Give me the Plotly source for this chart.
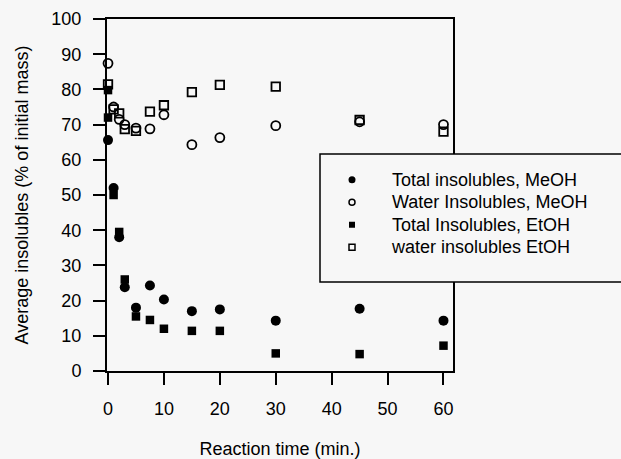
import plotly.graph_objects as go

# ---- data ----
x_total_meoh = [0, 1, 2, 3, 5, 7.5, 10, 15, 20, 30, 45, 60]
y_total_meoh = [65.6, 52.0, 38.0, 23.8, 18.0, 24.3, 20.3, 17.0, 17.5, 14.3, 17.7, 14.3]

x_water_meoh = [0, 1, 2, 3, 5, 7.5, 10, 15, 20, 30, 45, 60]
y_water_meoh = [87.4, 75.0, 71.5, 70.0, 69.0, 68.8, 72.8, 64.3, 66.3, 69.7, 70.8, 70.0]

x_total_etoh = [0, 0, 1, 2, 3, 5, 7.5, 10, 15, 20, 30, 45, 60]
y_total_etoh = [79.8, 72.0, 50.0, 39.5, 26.0, 15.5, 14.5, 12.0, 11.4, 11.4, 5.0, 4.8, 7.2]

x_water_etoh = [0, 1, 2, 3, 5, 7.5, 10, 15, 20, 30, 45, 60]
y_water_etoh = [81.4, 74.3, 73.2, 68.7, 68.2, 73.7, 75.5, 79.2, 81.3, 80.8, 71.3, 68.0]

series_names = [
    "Total insolubles, MeOH",
    "Water Insolubles, MeOH",
    "Total Insolubles, EtOH",
    "water insolubles EtOH",
]

x_ticks = [0, 10, 20, 30, 40, 50, 60]
y_ticks = [0, 10, 20, 30, 40, 50, 60, 70, 80, 90, 100]

BG = "#f7f7f7"
FONT = "Arial, 'Liberation Sans', sans-serif"

styles = [
    dict(symbol="circle", size=10, color="black", line=dict(width=0, color="black")),
    dict(symbol="circle-open", size=9, color="black", line=dict(width=1.8, color="black")),
    dict(symbol="square", size=8.5, color="black", line=dict(width=0, color="black")),
    dict(symbol="square-open", size=8.5, color="black", line=dict(width=1.8, color="black")),
]
legend_styles = [
    dict(symbol="circle", size=7, color="black", line=dict(width=0, color="black")),
    dict(symbol="circle-open", size=6, color="black", line=dict(width=1.5, color="black")),
    dict(symbol="square", size=6, color="black", line=dict(width=0, color="black")),
    dict(symbol="square-open", size=6, color="black", line=dict(width=1.5, color="black")),
]

data = [
    (x_total_meoh, y_total_meoh),
    (x_water_meoh, y_water_meoh),
    (x_total_etoh, y_total_etoh),
    (x_water_etoh, y_water_etoh),
]

fig = go.Figure()
for (xs, ys), st, name in zip(data, styles, series_names):
    fig.add_trace(go.Scatter(x=xs, y=ys, mode="markers", marker=st,
                             name=name, showlegend=False, cliponaxis=False))
# legend-only entries with smaller symbols (text rendered a bit larger than row spacing font)
for st, name in zip(legend_styles, series_names):
    fig.add_trace(go.Scatter(x=[None], y=[None], mode="markers", marker=st,
                             name='<span style="font-size:18px">' + name + '</span>',
                             showlegend=True))

W, H = 621, 459
ml, mr, mt, mb = 107, 168, 19, 88
pw = W - ml - mr
ph = H - mt - mb

def px_to_paper_x(px):
    return (px - ml) / pw

def px_to_paper_y(py):
    return (H - mb - py) / ph

# legend frame box (extends past right edge like the reference)
fig.add_shape(type="rect", xref="paper", yref="paper",
              x0=px_to_paper_x(320), x1=px_to_paper_x(640),
              y0=px_to_paper_y(282), y1=px_to_paper_y(154),
              line=dict(color="black", width=1.5), fillcolor=BG, layer="above")

fig.update_layout(
    width=W, height=H,
    margin=dict(l=ml, r=mr, t=mt, b=mb, pad=0, autoexpand=False),
    paper_bgcolor=BG, plot_bgcolor=BG,
    font=dict(family=FONT, size=17, color="black"),
    showlegend=True,
    legend=dict(x=px_to_paper_x(312), y=px_to_paper_y(163.5), xanchor="left", yanchor="top",
                bgcolor="rgba(0,0,0,0)", borderwidth=0, itemwidth=70,
                font=dict(family=FONT, size=15, color="black"), tracegroupgap=0),
    xaxis=dict(range=[-0.18, 61.7], tickvals=x_ticks, ticks="outside", ticklen=12,
               tickwidth=1.5, tickcolor="black", showline=True, linewidth=2,
               linecolor="black", mirror=True, showgrid=False, zeroline=False,
               ticklabelstandoff=8, automargin=False,
               title=dict(text="Reaction time (min.)", font=dict(size=18), standoff=27),
               tickfont=dict(size=18)),
    yaxis=dict(range=[0, 100], tickvals=y_ticks, ticks="outside", ticklen=12,
               tickwidth=1.5, tickcolor="black", showline=True, linewidth=2,
               linecolor="black", mirror=True, showgrid=False, zeroline=False,
               ticklabelstandoff=8, automargin=False,
               title=dict(text="Average insolubles (% of initial mass)", font=dict(size=18), standoff=18),
               tickfont=dict(size=18)),
)

fig.write_html("out.html")
